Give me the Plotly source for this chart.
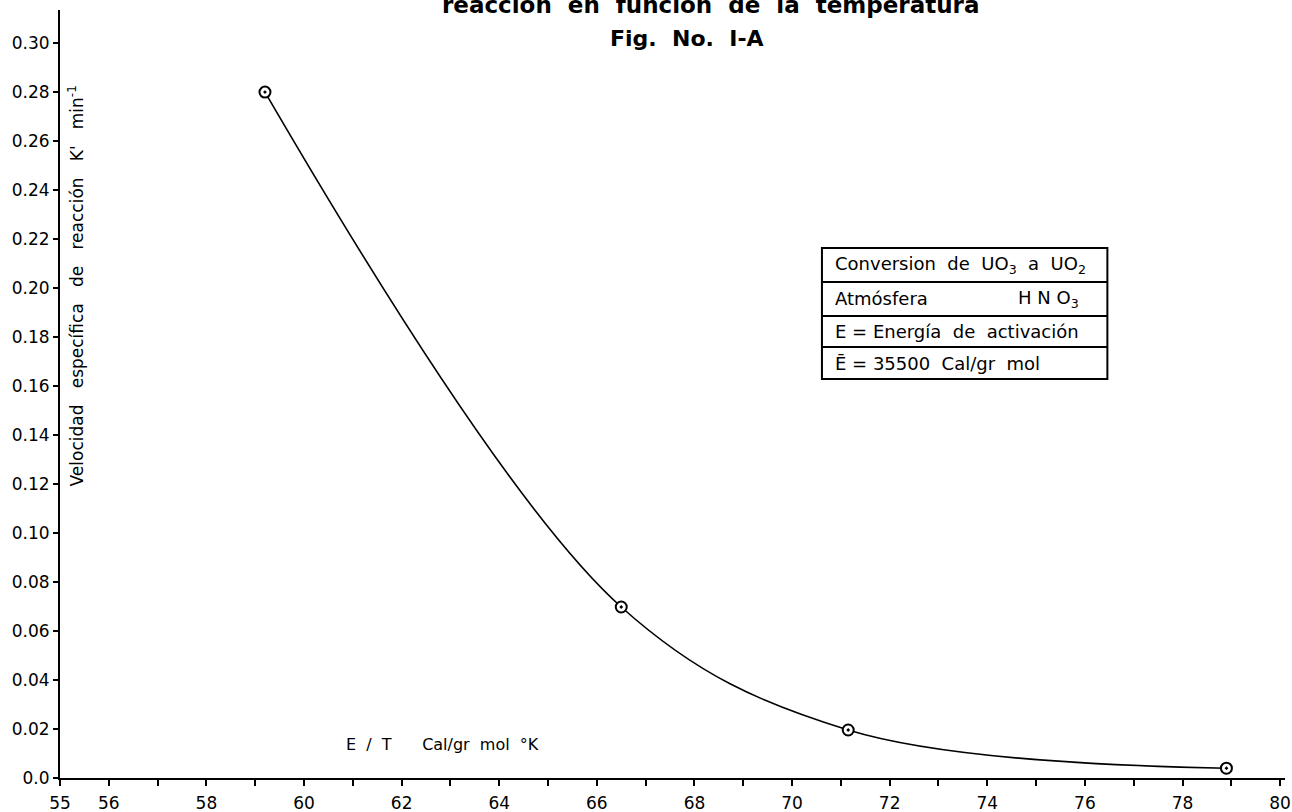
import plotly.graph_objects as go

# Data
x_vals = [59.2, 66.5, 71.15, 78.9]          # E/T  Cal/gr mol °K
k_vals = [0.280, 0.0698, 0.0196, 0.0040]    # K' min^-1

x_tick_vals = [55, 56, 58, 60, 62, 64, 66, 68, 70, 72, 74, 76, 78, 80]
x_tick_text = [str(v) for v in x_tick_vals]
y_tick_vals = [0.0, 0.02, 0.04, 0.06, 0.08, 0.10, 0.12, 0.14, 0.16, 0.18,
               0.20, 0.22, 0.24, 0.26, 0.28, 0.30]
y_tick_text = ["0.0"] + ["%.2f" % v for v in y_tick_vals[1:]]

title_line = "reacción  en  función  de  la  temperatura"
fig_label = "Fig.  No.  I-A"
y_title = "Velocidad   específica   de   reacción   K'   min<sup>-1</sup>"
x_title = "E  /  T      Cal/gr  mol  °K"
box_rows = ["Conversion  de  UO<sub>3</sub>  a  UO<sub>2</sub>",
            "Atmósfera",
            "E = Energía  de  activación",
            "E\u0304 = 35500  Cal/gr  mol"]
box_row2_right = "H N O<sub>3</sub>"

FONT = "DejaVu Sans"

fig = go.Figure()
fig.add_trace(go.Scatter(
    x=x_vals, y=k_vals, mode="lines+markers",
    line=dict(color="black", width=1.6, shape="spline", smoothing=1.0),
    marker=dict(symbol="circle-dot", size=11, color="white",
                line=dict(color="black", width=2)),
    showlegend=False, cliponaxis=False,
))

fig.update_layout(
    width=1292, height=812,
    margin=dict(l=60, r=7, t=10, b=34),
    paper_bgcolor="white", plot_bgcolor="white",
    font=dict(family=FONT, color="black"),
    xaxis=dict(range=[55, 80.1], tickvals=x_tick_vals, ticktext=x_tick_text,
               automargin=False,
               showgrid=False, zeroline=False, showline=True, linecolor="black",
               linewidth=2, ticks="outside", ticklen=6, tickwidth=1.5,
               tickcolor="black", tickfont=dict(size=17, family=FONT),
               minor=dict(dtick=1, ticks="outside", ticklen=6, tickwidth=1.5,
                          tickcolor="black"),
               ticklabelstandoff=3),
    yaxis=dict(range=[0, 0.3135], tickvals=y_tick_vals, ticktext=y_tick_text,
               automargin=False,
               showgrid=False, zeroline=False, showline=True, linecolor="black",
               linewidth=2, ticks="outside", ticklen=5, tickwidth=1.5,
               tickcolor="black", tickfont=dict(size=17, family=FONT),
               ticklabelstandoff=0),
)

ann = []
ann.append(dict(text="<b>" + title_line + "</b>", xref="paper", yref="paper",
                x=0.531, y=1.0065, xanchor="center", yanchor="middle",
                showarrow=False, font=dict(size=23, family=FONT)))
ann.append(dict(text="<b>" + fig_label + "</b>", xref="paper", yref="paper",
                x=0.512, y=0.9635, xanchor="center", yanchor="middle",
                showarrow=False, font=dict(size=22, family=FONT)))
ann.append(dict(text=y_title, xref="paper", yref="paper", x=0, xshift=16,
                y=0.640, xanchor="center", yanchor="middle", textangle=-90,
                showarrow=False, font=dict(size=17, family=FONT)))
ann.append(dict(text=x_title, xref="paper", yref="paper", x=0.312, y=0.043,
                xanchor="center", yanchor="middle", showarrow=False,
                font=dict(size=16, family=FONT)))

bx0, bx1 = 0.622, 0.855
row_edges = [0.690, 0.6458, 0.6016, 0.5612, 0.5195]
fig.add_shape(type="rect", xref="paper", yref="paper", x0=bx0, x1=bx1,
              y0=row_edges[-1], y1=row_edges[0],
              line=dict(color="black", width=2))
for e in row_edges[1:-1]:
    fig.add_shape(type="line", xref="paper", yref="paper", x0=bx0, x1=bx1,
                  y0=e, y1=e, line=dict(color="black", width=2))
for i, t in enumerate(box_rows):
    yc = (row_edges[i] + row_edges[i + 1]) / 2
    ann.append(dict(text=t, xref="paper", yref="paper", x=bx0 + 0.009, y=yc,
                    xanchor="left", yanchor="middle", showarrow=False,
                    font=dict(size=18, family=FONT)))
ann.append(dict(text=box_row2_right, xref="paper", yref="paper", x=0.780,
                y=(row_edges[1] + row_edges[2]) / 2, xanchor="left",
                yanchor="middle", showarrow=False, font=dict(size=18, family=FONT)))

fig.update_layout(annotations=ann)
fig.write_html("out.html", config={"displayModeBar": False},
               post_script="document.body.style.margin='0';")
